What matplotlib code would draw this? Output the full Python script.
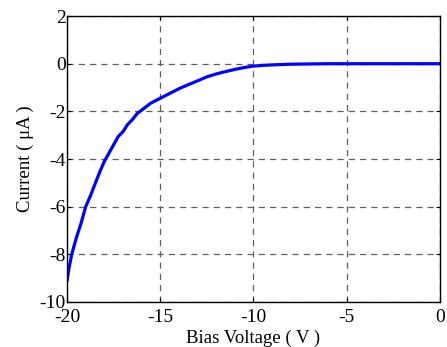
import matplotlib
matplotlib.use("Agg")
import matplotlib.pyplot as plt

voltage = [-20.0, -19.9, -19.75, -19.5, -19.25, -19.0, -18.75, -18.5, -18.25, -18.0,
           -17.75, -17.5, -17.25, -17.0, -16.75, -16.5, -16.25, -16.0, -15.75, -15.5,
           -15.25, -15.0, -14.5, -14.0, -13.5, -13.0, -12.5, -12.0, -11.5, -11.0,
           -10.5, -10.0, -9.5, -9.0, -8.0, -7.0, -6.0, -4.0, -2.0, 0.0]
current = [-9.1, -8.6, -8.0, -7.3, -6.7, -6.0, -5.55, -5.05, -4.55, -4.1,
           -3.75, -3.4, -3.05, -2.85, -2.55, -2.35, -2.1, -1.95, -1.8, -1.65,
           -1.55, -1.45, -1.25, -1.05, -0.88, -0.72, -0.55, -0.43, -0.33, -0.24,
           -0.16, -0.1, -0.07, -0.05, -0.02, -0.01, 0.0, 0.0, 0.0, 0.0]
xticks = [-20, -15, -10, -5, 0]
yticks = [-10, -8, -6, -4, -2, 0, 2]

plt.rcParams['font.family'] = ['Liberation Serif', 'DejaVu Serif']
fig = plt.figure(figsize=(4.47, 3.47), dpi=100)
ax = fig.add_axes([0.150, 0.1297, 0.834, 0.824])
ax.plot(voltage, current, color='#0000ff', lw=2.3)
ax.set_xlim(-20, 0)
ax.set_ylim(-10, 2)
ax.set_xticks(xticks)
ax.set_yticks(yticks)
ax.set_xticklabels([str(t) for t in xticks])
ax.set_yticklabels([str(t) for t in yticks])
ax.tick_params(direction='in', length=3, labelsize=14, top=True, right=True)
ax.tick_params(axis='x', pad=5)
ax.tick_params(axis='y', pad=1)
ax.grid(True, color='#606060', linestyle=(0, (5, 4)), lw=0.9)
for s in ax.spines.values():
    s.set_linewidth(1.0)
ax.set_xlabel('Bias Voltage ( V )', fontsize=13.5, labelpad=3)
ax.set_ylabel('Current ( \u03bcA )', fontsize=13.5, labelpad=4)
fig.savefig('out.png', dpi=100)
